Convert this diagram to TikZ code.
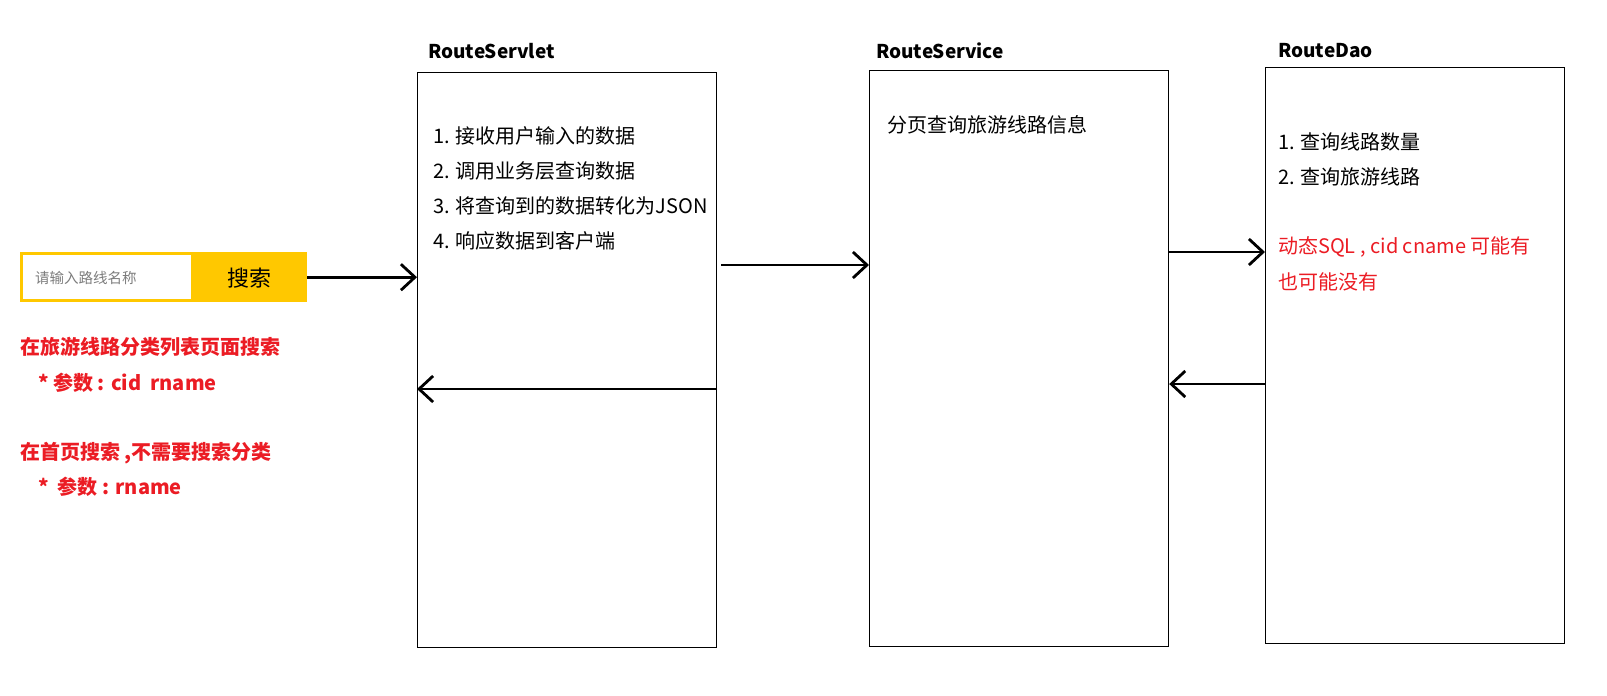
\documentclass[tikz,border=0pt]{standalone}
\usepackage{fontspec}
\setmainfont{Noto Sans CJK SC}
\usetikzlibrary{arrows.meta}
\definecolor{myred}{RGB}{235,28,36}
\definecolor{myyellow}{RGB}{255,200,0}
\definecolor{phgray}{RGB}{125,125,125}
\tikzset{
  box/.style={draw=black, line width=1.2pt, anchor=north west, inner sep=0pt, minimum width=299pt},
  ttl/.style={anchor=west, inner sep=0pt, font=\fontsize{19}{23}\selectfont\bfseries},
  body/.style={anchor=west, inner sep=0pt, font=\fontsize{20}{24}\selectfont},
  redb/.style={anchor=west, inner sep=0pt, text=myred, font=\fontsize{20}{24}\selectfont\bfseries},
  redn/.style={anchor=west, inner sep=0pt, text=myred, font=\fontsize{20}{24}\selectfont},
  flow/.style={line width=2.8pt, -{Straight Barb[length=14pt,width=26pt]}}
}
\begin{document}
\begin{tikzpicture}[x=1pt,y=-1pt]
\useasboundingbox (0,0) rectangle (1607,696);
% boxes
\node[box, minimum height=575pt] (servlet) at (417,72) {};
\node[box, minimum height=576pt] (service) at (869,70) {};
\node[box, minimum height=576pt] (dao) at (1265,67) {};
% titles
\node[ttl] (t1) at (428,51) {RouteServlet};
\node[ttl] (t2) at (876,51) {RouteService};
\node[ttl] (t3) at (1278,51) {RouteDao};
% servlet text
\node[body] (s1) at (433,136) {1. 接收用户输入的数据};
\node[body] (s2) at (433,171) {2. 调用业务层查询数据};
\node[body] (s3) at (433,206) {3. 将查询到的数据转化为JSON};
\node[body] (s4) at (433,241) {4. 响应数据到客户端};
% service text
\node[body] (v1) at (887,125) {分页查询旅游线路信息};
% dao text
\node[body] (d1) at (1278,142) {1. 查询线路数量};
\node[body] (d2) at (1278,177) {2. 查询旅游线路};
\node[redn] (d3) at (1278,247) {动态SQL , cid cname 可能有};
\node[redn] (d4) at (1278,282) {也可能没有};
% search widget
\node[fill=myyellow, anchor=north west, inner sep=0pt, minimum width=287pt, minimum height=50pt] (search) at (20,252) {};
\node[fill=white, anchor=north west, inner sep=0pt, minimum width=168pt, minimum height=44pt] (input) at (23,255) {};
\node[anchor=west, inner sep=0pt, text=phgray, font=\fontsize{14.5}{17}\selectfont] (ph) at (35,278) {请输入路线名称};
\node[inner sep=0pt, font=\fontsize{22}{26}\selectfont] (btn) at (249,278) {搜索};
% left notes
\node[redb] (n1) at (20,347) {在旅游线路分类列表页面搜索};
\node[redb] (n2) at (38,383) {* 参数 : cid~~rname};
\node[redb] (n3) at (20,453) {在首页搜索 ,不需要搜索分类};
\node[redb] (n4) at (38,487) {*~~参数 : rname};
% connectors
\draw[flow] (search.east) -- (search.east -| servlet.west);
\draw[flow, shorten <=4pt] (servlet.east |- 0,265) -- (service.west |- 0,265);
\draw[flow] (servlet.east |- 0,389) -- (servlet.west |- 0,389);
\draw[flow] (service.east |- 0,252) -- (dao.west |- 0,252);
\draw[flow] (dao.west |- 0,384) -- (service.east |- 0,384);
\end{tikzpicture}
\end{document}
